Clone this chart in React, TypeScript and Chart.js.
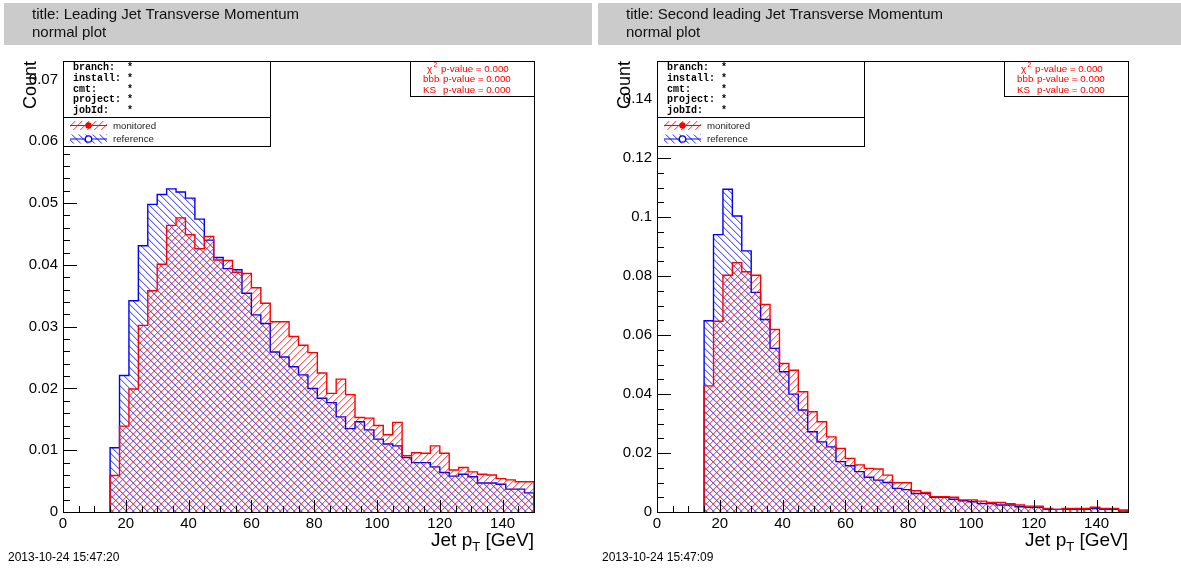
import React, { useEffect, useRef } from 'react';
import { Chart, registerables } from 'chart.js';

Chart.register(...registerables);

// Histogram bin edges in GeV (3 GeV bins, 15 → 150)
const BIN_EDGES = [
  15, 18, 21, 24, 27, 30, 33, 36, 39, 42, 45, 48, 51, 54, 57, 60, 63, 66, 69, 72, 75, 78, 81,
  84, 87, 90, 93, 96, 99, 102, 105, 108, 111, 114, 117, 120, 123, 126, 129, 132, 135, 138, 141,
  144, 147, 150,
];

// Leading jet pT, normalised counts per bin
const LEAD_MONITORED = [
  0.0059, 0.0139, 0.0199, 0.0302, 0.0358, 0.0401, 0.0464, 0.0476, 0.0449, 0.0426, 0.0446, 0.0408,
  0.0407, 0.0388, 0.0386, 0.0363, 0.0338, 0.0308, 0.0308, 0.0284, 0.027, 0.0258, 0.0225, 0.0192,
  0.0215, 0.019, 0.0153, 0.0152, 0.014, 0.0125, 0.0145, 0.0091, 0.0096, 0.0095, 0.0107, 0.0095,
  0.0068, 0.0072, 0.0065, 0.0061, 0.006, 0.0054, 0.0052, 0.0049, 0.0049,
];
const LEAD_REFERENCE = [
  0.0104, 0.0221, 0.0342, 0.0431, 0.0498, 0.0514, 0.0523, 0.0518, 0.0508, 0.0474, 0.044, 0.0412,
  0.0394, 0.0392, 0.0354, 0.0319, 0.0305, 0.0259, 0.0251, 0.0235, 0.0222, 0.02, 0.0184, 0.0177,
  0.0154, 0.0135, 0.0146, 0.0133, 0.0118, 0.011, 0.0107, 0.0088, 0.008, 0.008, 0.0073, 0.0064,
  0.0058, 0.0061, 0.0057, 0.0047, 0.0047, 0.0045, 0.0037, 0.0037, 0.0031,
];

// Second leading jet pT, normalised counts per bin
const SECOND_MONITORED = [
  0.0428, 0.0647, 0.0803, 0.0846, 0.0815, 0.0803, 0.0704, 0.0619, 0.0504, 0.0481, 0.0408, 0.034,
  0.0306, 0.0255, 0.0216, 0.0182, 0.016, 0.0148, 0.0146, 0.0125, 0.0099, 0.0099, 0.0072, 0.0066,
  0.0052, 0.0052, 0.005, 0.0041, 0.0041, 0.0037, 0.0032, 0.0032, 0.0028, 0.0024, 0.002, 0.002,
  0.0012, 0.0009, 0.0012, 0.0012, 0.0012, 0.0016, 0.0012, 0.0012, 0.0007,
];
const SECOND_REFERENCE = [
  0.0649, 0.0941, 0.1095, 0.1004, 0.0886, 0.0745, 0.0653, 0.0555, 0.0476, 0.04, 0.0346, 0.0272,
  0.0238, 0.0221, 0.0171, 0.0157, 0.0137, 0.0118, 0.0108, 0.01, 0.008, 0.0076, 0.0063, 0.0063,
  0.005, 0.005, 0.0043, 0.0038, 0.0035, 0.0029, 0.0029, 0.0024, 0.0024, 0.0018, 0.0016, 0.0016,
  0.0009, 0.0009, 0.0009, 0.0009, 0.0009, 0.0012, 0.0009, 0.0009, 0.0003,
];

// Axis tick labels
const X_TICKS = [0, 20, 40, 60, 80, 100, 120, 140];
const LEAD_Y_TICKS = [0, 0.01, 0.02, 0.03, 0.04, 0.05, 0.06, 0.07];
const SECOND_Y_TICKS = [0, 0.02, 0.04, 0.06, 0.08, 0.1, 0.12, 0.14];

// Info / legend / statistics texts
const INFO_LINES = ['branch:  *', 'install: *', 'cmt:     *', 'project: *', 'jobId:   *'];
const STAT_PREFIXES = ['bbb', 'KS'];
const STAT_TEXT = 'p-value = 0.000';
const SERIES_LABELS = ['monitored', 'reference'];

const SANS = '"Liberation Sans", Arial, Helvetica, sans-serif';
const MONO = '"Liberation Mono", "Courier New", monospace';
const H = 569;

function fmt(v: number): string {
  return String(parseFloat(v.toFixed(4)));
}

// Square tile with a two-pixel wide diagonal stroke (core + soft edge)
function makeHatch(rgb: string, rising: boolean): CanvasPattern {
  const n = 7;
  const tile = document.createElement('canvas');
  tile.width = n;
  tile.height = n;
  const t = tile.getContext('2d')!;
  for (let i = 0; i < n; i++) {
    const row = rising ? n - 1 - i : i;
    t.fillStyle = `rgba(${rgb},0.62)`;
    t.fillRect(i, row, 1, 1);
    t.fillStyle = `rgba(${rgb},0.24)`;
    t.fillRect((i + 1) % n, row, 1, 1);
  }
  return t.createPattern(tile, 'repeat')!;
}

function stepPoints(values: number[]) {
  const pts = [{ x: BIN_EDGES[0], y: 0 }];
  for (let i = 0; i < BIN_EDGES.length; i++) {
    pts.push({ x: BIN_EDGES[i], y: values[Math.min(i, values.length - 1)] });
  }
  pts.push({ x: BIN_EDGES[BIN_EDGES.length - 1], y: 0 });
  return pts;
}

const decorPlugin = {
  id: 'panelDecor',
  afterDraw(chart: any, _args: any, o: any) {
    const { ctx, chartArea: a, scales } = chart;
    const xs = scales.x;
    const ys = scales.y;
    const L = a.left;
    const T = a.top;
    const R = a.right;
    const B = a.bottom;
    ctx.save();

    // header band
    ctx.fillStyle = '#cbcbcb';
    ctx.fillRect(4, 3, o.headerRight - 4, 42);
    ctx.fillStyle = '#111';
    ctx.font = `15px ${SANS}`;
    ctx.textAlign = 'left';
    ctx.textBaseline = 'alphabetic';
    ctx.fillText(o.title, 32, 19);
    ctx.fillText('normal plot', 32, 37);

    // frame
    ctx.strokeStyle = '#000';
    ctx.lineWidth = 1;
    ctx.strokeRect(L + 0.5, T + 0.5, R - L, B - T);

    // inner ticks on x
    ctx.beginPath();
    for (let i = 0; i * 5 <= 150; i++) {
      const px = Math.round(xs.getPixelForValue(i * 5)) + 0.5;
      const len = i % 4 === 0 ? 12 : 6;
      ctx.moveTo(px, B);
      ctx.lineTo(px, B - len);
    }
    // inner ticks on y
    const minor = o.yMajor / o.yMinorPerMajor;
    for (let i = 0; i * minor <= ys.max + 1e-9; i++) {
      const py = Math.round(ys.getPixelForValue(i * minor)) + 0.5;
      const len = i % o.yMinorPerMajor === 0 ? 14 : 7;
      ctx.moveTo(L, py);
      ctx.lineTo(L + len, py);
    }
    ctx.stroke();

    // info box
    ctx.fillStyle = '#fff';
    ctx.fillRect(L, T, 270 - L, 117 - T);
    ctx.strokeRect(L + 0.5, T + 0.5, 270 - L, 117 - T);
    ctx.fillStyle = '#000';
    ctx.font = `bold 10px ${MONO}`;
    INFO_LINES.forEach((s, i) => ctx.fillText(s, 73, 70 + i * 10.8));

    // legend box
    ctx.fillStyle = '#fff';
    ctx.fillRect(L, 117, 270 - L, 29);
    ctx.strokeRect(L + 0.5, 117.5, 270 - L, 29);
    const ds = chart.data.datasets;
    [0, 1].forEach((k) => {
      const d = ds[k];
      const cy = 125 + k * 13.5;
      ctx.fillStyle = d.backgroundColor;
      ctx.fillRect(70, cy - 4, 37, 9);
      ctx.strokeStyle = d.borderColor;
      ctx.lineWidth = 1;
      ctx.beginPath();
      ctx.moveTo(70, cy + 0.5);
      ctx.lineTo(107, cy + 0.5);
      ctx.stroke();
      ctx.beginPath();
      ctx.arc(88.5, cy + 0.5, 3.2, 0, Math.PI * 2);
      if (k === 0) {
        ctx.fillStyle = d.borderColor;
        ctx.fill();
      } else {
        ctx.fillStyle = '#fff';
        ctx.fill();
        ctx.lineWidth = 1.3;
        ctx.stroke();
      }
      ctx.fillStyle = '#222';
      ctx.font = `9.7px ${SANS}`;
      ctx.fillText(d.label, 113, cy + 3.5);
    });

    // statistics box
    ctx.strokeStyle = '#000';
    ctx.lineWidth = 1;
    ctx.fillStyle = '#fff';
    ctx.fillRect(410, T, R - 410, 96 - T);
    ctx.strokeRect(410.5, T + 0.5, R - 410, 96 - T);
    ctx.fillStyle = '#ff0000';
    ctx.font = `9.8px ${SANS}`;
    ctx.fillText('χ', 427, 71.5);
    ctx.font = `6.5px ${SANS}`;
    ctx.fillText('2', 433.5, 67);
    ctx.font = `9.8px ${SANS}`;
    ctx.fillText(STAT_TEXT, 441, 71.5);
    STAT_PREFIXES.forEach((p, i) => {
      ctx.fillText(p, 423, 82.3 + i * 10.5);
      ctx.fillText(STAT_TEXT, 443, 82.3 + i * 10.5);
    });

    // axis titles
    ctx.fillStyle = '#000';
    ctx.font = `18px ${SANS}`;
    ctx.save();
    ctx.translate(36, T);
    ctx.rotate(-Math.PI / 2);
    ctx.textAlign = 'right';
    ctx.fillText('Count', 0, 0);
    ctx.restore();

    const big = `19px ${SANS}`;
    const sub = `13px ${SANS}`;
    ctx.font = big;
    const w1 = ctx.measureText('Jet p').width;
    const w3 = ctx.measureText(' [GeV]').width;
    ctx.font = sub;
    const w2 = ctx.measureText('T').width;
    let x0 = R - (w1 + w2 + w3);
    const by = 546;
    ctx.font = big;
    ctx.fillText('Jet p', x0, by);
    x0 += w1;
    ctx.font = sub;
    ctx.fillText('T', x0, by + 5);
    x0 += w2;
    ctx.font = big;
    ctx.fillText(' [GeV]', x0, by);

    // time stamp
    ctx.font = `12px ${SANS}`;
    ctx.fillText(o.date, 8, 561);

    ctx.restore();
  },
};

type PanelCfg = {
  left: number;
  width: number;
  headerRight: number;
  title: string;
  date: string;
  monitored: number[];
  reference: number[];
  yMax: number;
  yTicks: number[];
  yMinorPerMajor: number;
};

const PANELS: PanelCfg[] = [
  {
    left: 0,
    width: 594,
    headerRight: 592,
    title: 'title: Leading Jet Transverse Momentum',
    date: '2013-10-24 15:47:20',
    monitored: LEAD_MONITORED,
    reference: LEAD_REFERENCE,
    yMax: 0.073,
    yTicks: LEAD_Y_TICKS,
    yMinorPerMajor: 5,
  },
  {
    left: 594,
    width: 587,
    headerRight: 587,
    title: 'title: Second leading Jet Transverse Momentum',
    date: '2013-10-24 15:47:09',
    monitored: SECOND_MONITORED,
    reference: SECOND_REFERENCE,
    yMax: 0.153,
    yTicks: SECOND_Y_TICKS,
    yMinorPerMajor: 4,
  },
];

function HistPanel({ cfg }: { cfg: PanelCfg }) {
  const ref = useRef<HTMLCanvasElement>(null);

  useEffect(() => {
    const canvas = ref.current!;
    const redHatch = makeHatch('255,0,0', true);
    const blueHatch = makeHatch('0,0,255', false);
    const tickFont = { family: SANS, size: 15 };

    const chart = new Chart(canvas, {
      type: 'line',
      data: {
        datasets: [
          {
            label: SERIES_LABELS[0],
            data: stepPoints(cfg.monitored),
            stepped: 'before',
            fill: 'origin',
            backgroundColor: redHatch,
            borderColor: '#ff0000',
            borderWidth: 1.4,
            pointRadius: 0,
          },
          {
            label: SERIES_LABELS[1],
            data: stepPoints(cfg.reference),
            stepped: 'before',
            fill: 'origin',
            backgroundColor: blueHatch,
            borderColor: '#0000ff',
            borderWidth: 1.4,
            pointRadius: 0,
          },
        ],
      },
      options: {
        animation: false,
        responsive: false,
        devicePixelRatio: 1,
        layout: { padding: { left: 0, top: 61, right: cfg.width - 534, bottom: 0 } },
        scales: {
          x: {
            type: 'linear',
            min: 0,
            max: 150,
            grid: { display: false, drawTicks: false },
            border: { display: false },
            afterBuildTicks: (s: any) => {
              s.ticks = X_TICKS.map((v) => ({ value: v }));
            },
            afterFit: (s: any) => {
              s.height = H - 512;
            },
            ticks: {
              autoSkip: false,
              maxRotation: 0,
              padding: 3,
              color: '#000',
              font: tickFont,
              callback: (v: any) => fmt(Number(v)),
            },
          },
          y: {
            type: 'linear',
            min: 0,
            max: cfg.yMax,
            grid: { display: false, drawTicks: false },
            border: { display: false },
            afterBuildTicks: (s: any) => {
              s.ticks = cfg.yTicks.map((v) => ({ value: v }));
            },
            afterFit: (s: any) => {
              s.width = 63;
            },
            ticks: {
              autoSkip: false,
              padding: 5,
              color: '#000',
              font: tickFont,
              callback: (v: any) => fmt(Number(v)),
            },
          },
        },
        plugins: {
          legend: { display: false },
          tooltip: { enabled: false },
          panelDecor: {
            title: cfg.title,
            date: cfg.date,
            headerRight: cfg.headerRight,
            yMajor: cfg.yTicks[1],
            yMinorPerMajor: cfg.yMinorPerMajor,
          },
        } as any,
      },
      plugins: [decorPlugin],
    } as any);

    return () => chart.destroy();
  }, [cfg]);

  return (
    <canvas
      ref={ref}
      width={cfg.width}
      height={H}
      style={{ position: 'absolute', left: cfg.left, top: 0, width: cfg.width, height: H }}
    />
  );
}

export default function App() {
  return (
    <div style={{ position: 'absolute', left: 0, top: 0, width: 1181, height: H, background: '#fff' }}>
      {PANELS.map((p) => (
        <HistPanel key={p.title} cfg={p} />
      ))}
    </div>
  );
}
